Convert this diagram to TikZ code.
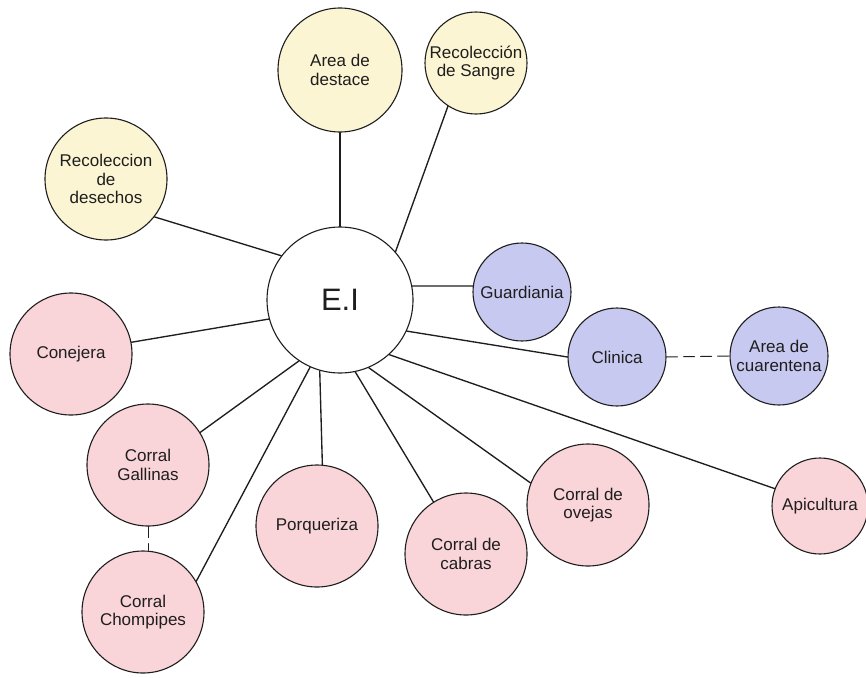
\documentclass[tikz,border=0pt]{standalone}
\usepackage{fontspec}
\setmainfont{Liberation Sans}
\usetikzlibrary{backgrounds}
\definecolor{ink}{HTML}{1E1E1E}
\definecolor{cream}{HTML}{FCF5D4}
\definecolor{lavender}{HTML}{C8C9F1}
\definecolor{blush}{HTML}{F9D4D8}
\tikzset{
  area/.style={
    circle,
    draw=ink,
    line width=1.1pt,
    align=center,
    inner sep=0pt,
    text=ink,
    font=\fontsize{17}{18.5}\selectfont
  },
  hub/.style={area,fill=white,minimum size=146pt,font=\fontsize{31}{34}\selectfont},
  upper/.style={area,fill=cream,minimum size=124pt},
  service/.style={area,fill=lavender,minimum size=98pt},
  corral/.style={area,fill=blush,minimum size=122pt},
  link/.style={
    draw=ink,
    line width=1.35pt,
    line cap=round
  },
  dashlink/.style={
    link,
    line width=1pt,
    dash pattern=on 11pt off 6pt
  }
}
\begin{document}
\begin{tikzpicture}[x=1pt,y=-1pt]
  \useasboundingbox (0,0) rectangle (866,677);

  % Central node and the upper (yellow) areas.
  \node[hub] (ei) at (340,300) {E.I};
  \node[upper] (destace) at (340,70) {Area de\\destace};
  \node[upper,minimum size=102pt] (sangre) at (476,63) {Recolección\\de Sangre};
  \node[upper,minimum size=122pt] (desechos) at (106,179) {Recoleccion\\de\\desechos};

  % Services on the right.
  \node[service] (guard) at (522,292) {Guardiania};
  \node[service] (clinica) at (617,357) {Clinica};
  \node[service] (cuarentena) at (779,356) {Area de\\cuarentena};

  % Animal pens.
  \node[corral] (conejera) at (71,354) {Conejera};
  \node[corral] (gallinas) at (148,465) {Corral\\Gallinas};
  \node[corral] (chompipes) at (143,612) {Corral\\Chompipes};
  \node[corral] (porqueriza) at (317,526) {Porqueriza};
  \node[corral] (cabras) at (466,554) {Corral de\\cabras};
  \node[corral] (ovejas) at (588,505) {Corral de\\ovejas};
  \node[corral,minimum size=96pt] (apicultura) at (820,506) {Apicultura};

  \begin{scope}[on background layer]
    \draw[link] (destace.south) -- (ei.north);
    \draw[link] (sangre.237) -- (ei.41);
    \draw[link] (desechos.-38) -- (ei.143);
    \draw[link] (guard.173) -- (ei.11);
    \draw[link] (clinica.west) -- (ei.-25);
    \draw[link] (apicultura.159) -- (ei.-48);
    \draw[link] (ovejas.159) -- (ei.-67);
    \draw[link] (cabras.122) -- (ei.-78);
    \draw[link] (porqueriza.85) -- (ei.254);
    \draw[link] (chompipes.30) -- (ei.246);
    \draw[link] (gallinas.32) -- (ei.236);
    \draw[link] (conejera.11) -- (ei.195);

    \draw[dashlink] (clinica.east) -- (cuarentena.west);
    \draw[dashlink] (gallinas.south) -- (gallinas.south |- chompipes.north);
  \end{scope}

\end{tikzpicture}
\end{document}
